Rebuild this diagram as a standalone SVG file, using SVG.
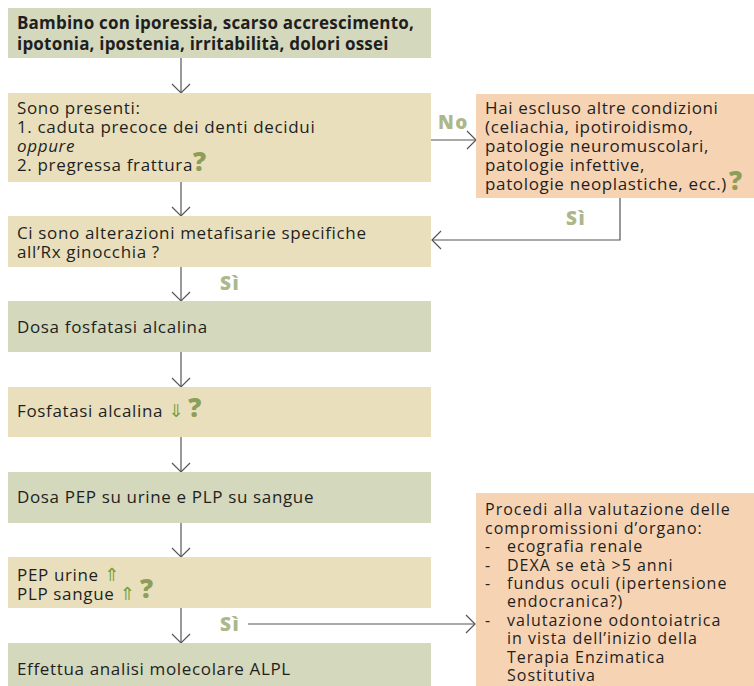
<svg xmlns="http://www.w3.org/2000/svg" width="754" height="686" viewBox="0 0 754 686">
<defs>
<style>
.t{font-family:"Open Sans","Noto Sans",sans-serif;font-size:17px;letter-spacing:0.65px;fill:#1f1f1f}
.s{font-size:16px;letter-spacing:1px}
.b{font-weight:bold;letter-spacing:0.2px}
.g{fill:#d4d8bc}
.y{fill:#e9dfbc}
.p{fill:#f6d3b3}
.q{font-family:"Open Sans","Noto Sans",sans-serif;font-weight:800;font-size:26px;letter-spacing:0;fill:#8c9e5a}
.ar{font-family:"DejaVu Sans",sans-serif;font-size:18px;letter-spacing:0;fill:#76a03e}
.lb{font-family:"Open Sans","Noto Sans",sans-serif;font-weight:800;font-size:19px;letter-spacing:1.5px;fill:#adb78c}
.c{stroke:#555;stroke-width:1.2;fill:none}
</style>
<marker id="ah" markerUnits="userSpaceOnUse" viewBox="-10 -10 12 20" refX="0" refY="0" markerWidth="12" markerHeight="20" orient="auto">
<path d="M-9,-9 L0,0 L-9,9" fill="none" stroke="#555" stroke-width="1.2"/>
</marker>
</defs>
<rect width="754" height="686" fill="#fff"/>
<g id="connectors">
<path class="c" d="M181,58 V93" marker-end="url(#ah)"/>
<path class="c" d="M181,182 V216" marker-end="url(#ah)"/>
<path class="c" d="M181,267 V301" marker-end="url(#ah)"/>
<path class="c" d="M181,352 V387" marker-end="url(#ah)"/>
<path class="c" d="M181,437 V472" marker-end="url(#ah)"/>
<path class="c" d="M181,523 V557" marker-end="url(#ah)"/>
<path class="c" d="M181,608 V643" marker-end="url(#ah)"/>
<path class="c" d="M431,140 H476" marker-end="url(#ah)"/>
<path class="c" d="M620,198 V240 H432" marker-end="url(#ah)"/>
<path class="c" d="M248,624 H475" marker-end="url(#ah)"/>
<text class="lb" x="438" y="129">No</text>
<text class="lb" x="566" y="225">Sì</text>
<text class="lb" x="220" y="290">Sì</text>
<text class="lb" x="220" y="631">Sì</text>
</g>
<g id="n1">
<rect class="g" x="8" y="8" width="423" height="50"/>
<text class="t b"><tspan x="17" y="29">Bambino con iporessia, scarso accrescimento,</tspan><tspan x="17" y="50">ipotonia, ipostenia, irritabilità, dolori ossei</tspan></text>
</g>
<g id="n2">
<rect class="y" x="8" y="93" width="423" height="89"/>
<text class="t"><tspan x="17" y="114">Sono presenti:</tspan><tspan x="17" y="133">1. caduta precoce dei denti decidui</tspan><tspan x="17" y="152" font-style="italic">oppure</tspan><tspan x="17" y="171">2. pregressa frattura</tspan><tspan class="q">?</tspan></text>
</g>
<g id="nA">
<rect class="p" x="476" y="94" width="278" height="104"/>
<text class="t"><tspan x="485" y="114">Hai escluso altre condizioni</tspan><tspan x="485" y="133">(celiachia, ipotiroidismo,</tspan><tspan x="485" y="152">patologie neuromuscolari,</tspan><tspan x="485" y="171">patologie infettive,</tspan><tspan x="485" y="190">patologie neoplastiche, ecc.)</tspan><tspan class="q" dx="2">?</tspan></text>
</g>
<g id="n3">
<rect class="y" x="8" y="216" width="423" height="51"/>
<text class="t"><tspan x="17" y="239">Ci sono alterazioni metafisarie specifiche</tspan><tspan x="17" y="258">all’Rx ginocchia ?</tspan></text>
</g>
<g id="n4">
<rect class="g" x="8" y="301" width="423" height="51"/>
<text class="t" x="17" y="333">Dosa fosfatasi alcalina</text>
</g>
<g id="n5">
<rect class="y" x="8" y="387" width="423" height="50"/>
<text class="t" x="17" y="417">Fosfatasi alcalina <tspan class="ar">⇓</tspan> <tspan class="q">?</tspan></text>
</g>
<g id="n6">
<rect class="g" x="8" y="472" width="423" height="51"/>
<text class="t" x="17" y="503">Dosa PEP su urine e PLP su sangue</text>
</g>
<g id="n7">
<rect class="y" x="8" y="557" width="423" height="51"/>
<text class="t"><tspan x="17" y="581">PEP urine </tspan><tspan class="ar">⇑</tspan><tspan x="17" y="600">PLP sangue </tspan><tspan class="ar">⇑</tspan><tspan class="q" x="140" y="598">?</tspan></text>
</g>
<g id="n8">
<rect class="g" x="8" y="643" width="423" height="43"/>
<text class="t" x="17" y="675">Effettua analisi molecolare ALPL</text>
</g>
<g id="nB">
<rect class="p" x="476" y="493" width="278" height="193"/>
<text class="t s"><tspan x="485" y="515.4">Procedi alla valutazione delle</tspan><tspan x="485" y="533.8">compromissioni d’organo:</tspan><tspan x="485" y="552.2">-</tspan><tspan x="507" y="552.2">ecografia renale</tspan><tspan x="485" y="570.6">-</tspan><tspan x="507" y="570.6">DEXA se età &gt;5 anni</tspan><tspan x="485" y="589">-</tspan><tspan x="507" y="589">fundus oculi (ipertensione</tspan><tspan x="507" y="607.4">endocranica?)</tspan><tspan x="485" y="625.8">-</tspan><tspan x="507" y="625.8">valutazione odontoiatrica</tspan><tspan x="507" y="644.2">in vista dell’inizio della</tspan><tspan x="507" y="662.6">Terapia Enzimatica</tspan><tspan x="507" y="681">Sostitutiva</tspan></text>
</g>
</svg>
